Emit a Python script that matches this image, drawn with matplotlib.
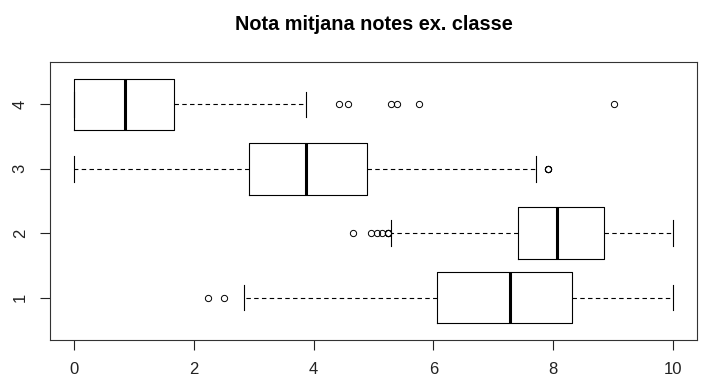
import matplotlib
matplotlib.use('Agg')
import matplotlib.pyplot as plt

plt.rcParams['font.family'] = ['Liberation Sans', 'DejaVu Sans']

# box stats, groups 1..4 from bottom to top
groups  = ['1', '2', '3', '4']
q1      = [6.06, 7.41, 2.92, 0.00]
median  = [7.28, 8.06, 3.87, 0.85]
q3      = [8.31, 8.85, 4.89, 1.67]
wlow    = [2.84, 5.29, 0.00, 0.00]
whigh   = [10.0, 10.0, 7.71, 3.88]
fliers  = [
    [2.24, 2.51],
    [4.65, 4.95, 5.06, 5.15, 5.25, 5.25, 5.25],
    [7.91, 7.91, 7.91],
    [4.43, 4.58, 5.29, 5.39, 5.76, 9.02],
]
x_ticks = [0, 2, 4, 6, 8, 10]
title   = 'Nota mitjana notes ex. classe'

stats = []
for i in range(len(groups)):
    stats.append(dict(label=groups[i], q1=q1[i], med=median[i], q3=q3[i],
                      whislo=wlow[i], whishi=whigh[i], fliers=fliers[i]))

fig = plt.figure(figsize=(7.08, 3.8), dpi=100)
ax = fig.add_axes([50/708, 1-340/380, 647/708, 278/380])

ax.bxp(stats, positions=range(1, len(groups)+1), vert=False, widths=0.8,
       capwidths=0.4, patch_artist=False,
       boxprops=dict(color='black', linewidth=0.8),
       medianprops=dict(color='black', linewidth=2.2, solid_capstyle='butt'),
       whiskerprops=dict(color='black', linewidth=0.8, linestyle=(0, (4, 3))),
       capprops=dict(color='black', linewidth=0.8),
       flierprops=dict(marker='o', markerfacecolor='none', markeredgecolor='black',
                       markersize=4.5, markeredgewidth=0.7))

ax.set_xlim(-0.4, 10.4)
ax.set_ylim(0.34, 4.66)
ax.set_xticks(x_ticks)
ax.set_xticklabels([str(t) for t in x_ticks])
ax.set_yticks(range(1, len(groups)+1))
ax.set_yticklabels(groups, rotation=90, va='center')
ax.tick_params(axis='both', labelsize=12, length=7, width=0.8, pad=9, colors='#222222')
for s in ax.spines.values():
    s.set_linewidth(0.8)
    s.set_color('#333333')

ax.set_title(title, fontsize=14.3, fontweight='bold', pad=23)

fig.savefig('out.png', dpi=100)
